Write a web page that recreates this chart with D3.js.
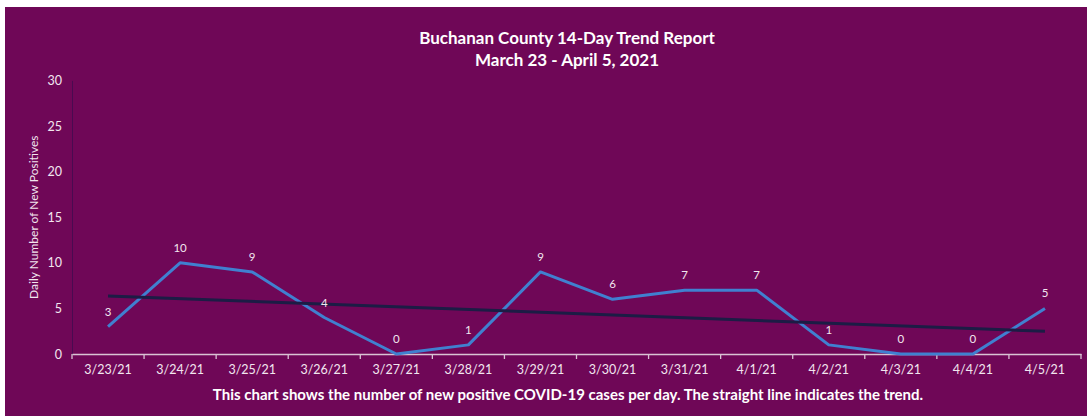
<!DOCTYPE html>
<html><head><meta charset="utf-8">
<script src="https://d3js.org/d3.v7.min.js"></script>
<style>
html,body{margin:0;padding:0;background:#fff;}
svg{display:block;}
text{font-family:Lato,"Open Sans",sans-serif;}
</style></head>
<body>
<svg id="chart" width="1087" height="416"></svg>
<script>
const categories = ["3/23/21","3/24/21","3/25/21","3/26/21","3/27/21","3/28/21","3/29/21","3/30/21","3/31/21","4/1/21","4/2/21","4/3/21","4/4/21","4/5/21"];
const values = [3,10,9,4,0,1,9,6,7,7,1,0,0,5];
const yTicks = [0,5,10,15,20,25,30];
const titleLines = ["Buchanan County 14-Day Trend Report","March 23 - April 5, 2021"];
const yTitle = "Daily Number of New Positives";
const footer = "This chart shows the number of new positive COVID-19 cases per day. The straight line indicates the trend.";

const svg = d3.select("#chart");
const W = 1087, H = 416;
svg.append("rect").attr("x",5).attr("y",7).attr("width",W-5).attr("height",H-7).attr("fill","#6f0757");

const m = {left:72, right:1081, top:80.4, bottom:354};
const x = d3.scaleBand().domain(categories).range([m.left,m.right]).padding(0);
const y = d3.scaleLinear().domain([0,30]).range([m.bottom,m.top]);
const cx = d => x(d)+x.bandwidth()/2;
const textCol = "#f2e6ef";

// title
svg.append("g").selectAll("text").data(titleLines).join("text")
  .attr("x",567).attr("y",(d,i)=>44+i*22).attr("text-anchor","middle")
  .attr("fill","#fff").attr("font-weight","bold").attr("font-size",17).text(d=>d);

// y axis
const ya = svg.append("g").attr("transform",`translate(${m.left},0)`)
  .call(d3.axisLeft(y).tickValues(yTicks).tickSize(0).tickPadding(10));
ya.select(".domain").attr("stroke","#4a0a50").attr("stroke-width",1);
ya.selectAll("text").attr("fill",textCol).attr("font-size",12.5).attr("font-family","Lato,'Open Sans',sans-serif");

// x axis
const xTickPos = d3.range(categories.length+1).map(i=>m.left+i*x.bandwidth());
const xa = svg.append("g").attr("transform",`translate(0,${m.bottom})`)
  .call(d3.axisBottom(x).tickSize(0).tickPadding(11));
xa.select(".domain").attr("stroke","#d9c3d4").attr("stroke-width",1.3);
xa.selectAll("text").attr("fill",textCol).attr("font-size",12.5).attr("font-family","Lato,'Open Sans',sans-serif");
svg.append("g").selectAll("line").data(xTickPos).join("line")
  .attr("x1",d=>d).attr("x2",d=>d).attr("y1",m.bottom).attr("y2",m.bottom+5)
  .attr("stroke","#d9c3d4").attr("stroke-width",1.3);

// y title
svg.append("text").attr("transform",`translate(38,${(m.top+m.bottom)/2}) rotate(-90)`)
  .attr("text-anchor","middle").attr("fill",textCol).attr("font-size",12).text(yTitle);

// data line
const line = d3.line().x((d,i)=>cx(categories[i])).y(d=>y(d));
svg.append("path").datum(values).attr("d",line).attr("fill","none")
  .attr("stroke","#4080d0").attr("stroke-width",3).attr("stroke-linejoin","round");

// linear trend (least squares)
const n = values.length, xs = d3.range(1,n+1);
const mx = d3.mean(xs), my = d3.mean(values);
const slope = d3.sum(xs,(v,i)=>(v-mx)*(values[i]-my))/d3.sum(xs,v=>(v-mx)*(v-mx));
const intercept = my - slope*mx;
const trend = [intercept+slope*1, intercept+slope*n];
svg.append("line")
  .attr("x1",cx(categories[0])).attr("y1",y(trend[0]))
  .attr("x2",cx(categories[n-1])).attr("y2",y(trend[1]))
  .attr("stroke","#1c1c45").attr("stroke-width",3);

// data labels
svg.append("g").selectAll("text").data(values).join("text")
  .attr("x",(d,i)=>cx(categories[i])).attr("y",d=>y(d)-11)
  .attr("text-anchor","middle").attr("fill",textCol).attr("font-size",11.5).text(d=>d);

// footer
svg.append("text").attr("x",568).attr("y",400).attr("text-anchor","middle")
  .attr("fill","#fff").attr("font-weight","bold").attr("font-size",15).text(footer);
</script>
</body></html>
